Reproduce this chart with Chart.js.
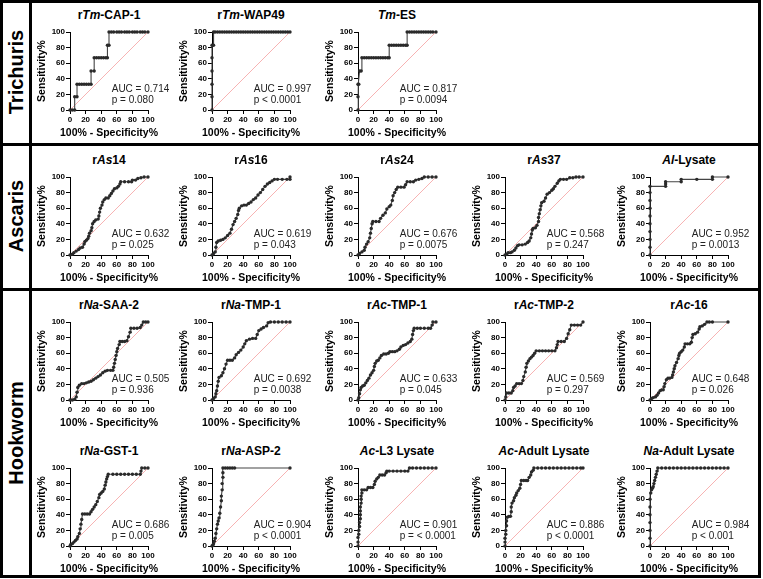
<!DOCTYPE html>
<html>
<head>
<meta charset="utf-8">
<script src="https://cdn.jsdelivr.net/npm/chart.js@4"></script>
<style>
  body { margin: 0; background: #fff; font-family: "Liberation Sans", Arial, sans-serif; }
  #fig { position: relative; width: 763px; height: 579px; overflow: hidden; }
  .frame { position: absolute; background: #000; }
  .title { position: absolute; font-size: 12px; font-weight: bold; line-height: 14px; white-space: nowrap; transform: translateX(-50%); }
  .group { position: absolute; width: 200px; height: 24px; line-height: 24px; text-align: center; font-size: 20px; font-weight: bold; transform: rotate(-90deg); }
  canvas { position: absolute; }
</style>
</head>
<body>
<div id="fig"></div>
<script>
// ROC points [100% - specificity, sensitivity]
const rTmCAP1 = [[0,0],[3,0],[6,0],[6,17],[9,17],[9,33],[12,33],[15,33],[18,33],[21,33],[24,33],[27,33],[27,50],[31,50],[31,67],[34,67],[37,67],[40,67],[43,67],[46,67],[48,67],[48,83],[50,83],[50,100],[53,100],[56,100],[60,100],[63,100],[66,100],[70,100],[73,100],[76,100],[80,100],[83,100],[86,100],[90,100],[93,100],[96,100],[100,100]];
const rTmWAP49 = [[0,0],[0,17],[0,33],[0,50],[0,67],[0,83],[2,83],[2,100],[4,100],[7,100],[10,100],[13,100],[16,100],[19,100],[22,100],[25,100],[28,100],[31,100],[34,100],[37,100],[40,100],[43,100],[46,100],[49,100],[52,100],[55,100],[58,100],[61,100],[64,100],[67,100],[70,100],[73,100],[76,100],[79,100],[82,100],[85,100],[88,100],[91,100],[94,100],[97,100],[100,100]];
const TmES = [[0,0],[0,17],[0,33],[1,33],[2,50],[4,50],[5,67],[8,67],[11,67],[14,67],[17,67],[20,67],[23,67],[26,67],[29,67],[32,67],[35,67],[38,67],[40,67],[40,83],[43,83],[46,83],[49,83],[52,83],[55,83],[58,83],[61,83],[63,83],[63,100],[66,100],[69,100],[72,100],[75,100],[78,100],[81,100],[84,100],[87,100],[90,100],[93,100],[96,100],[100,100]];

const rAs14 = [[0,0],[3,1],[5,3],[8,5],[11,7],[13,9],[16,10],[18,14],[19,17],[21,19],[23,21],[24,24],[25,28],[27,31],[28,35],[29,40],[31,43],[33,45],[36,46],[37,50],[38,55],[39,60],[41,64],[42,68],[44,71],[46,73],[49,73],[51,76],[53,79],[55,82],[57,85],[60,86],[62,88],[64,91],[65,94],[70,94],[75,94],[79,94],[80,96],[84,96],[87,98],[91,99],[95,100],[100,100]];
const rAs16 = [[0,0],[2,2],[4,4],[5,10],[6,16],[8,18],[11,19],[14,20],[17,22],[20,25],[23,28],[25,33],[27,39],[29,43],[31,47],[33,52],[34,57],[35,60],[38,63],[41,64],[44,64],[47,66],[50,68],[53,71],[56,73],[59,77],[62,80],[65,84],[68,88],[71,91],[74,93],[77,95],[80,97],[84,97],[90,97],[96,97],[100,97],[100,100]];
const rAs24 = [[0,0],[2,2],[5,4],[8,6],[9,10],[11,14],[13,17],[15,22],[16,28],[17,34],[18,40],[19,43],[23,43],[27,43],[29,47],[32,51],[35,54],[37,59],[40,62],[42,64],[44,70],[45,76],[47,80],[49,84],[51,87],[55,87],[59,87],[61,90],[63,94],[67,94],[71,94],[74,96],[78,97],[82,98],[85,100],[90,100],[95,100],[100,100]];
const rAs37 = [[0,0],[2,1],[4,3],[7,3],[9,4],[12,6],[14,9],[16,12],[18,13],[22,13],[26,14],[29,16],[31,18],[33,22],[34,27],[35,32],[36,34],[39,35],[41,38],[43,43],[43,48],[44,53],[45,58],[46,63],[47,67],[50,69],[52,73],[54,78],[57,80],[60,83],[62,85],[64,88],[67,92],[69,95],[71,97],[75,97],[79,97],[83,99],[87,99],[91,100],[95,100],[100,100]];
const AlLysate = [[0,0],[0,10],[0,20],[0,30],[0,40],[0,50],[0,60],[0,70],[0,80],[0,88],[20,88],[20,91],[20,94],[40,94],[40,97],[60,97],[80,97],[80,100],[100,100]];

const rNaSAA2 = [[0,0],[3,0],[6,1],[8,4],[9,10],[10,16],[12,19],[15,21],[18,21],[21,22],[24,23],[27,24],[30,26],[33,28],[36,30],[39,32],[42,35],[45,37],[48,38],[52,38],[55,38],[56,42],[57,47],[58,52],[59,57],[60,62],[61,66],[63,71],[64,75],[67,75],[70,75],[73,76],[75,81],[77,87],[78,92],[82,92],[86,92],[90,93],[92,96],[94,100],[97,100],[100,100]];
const rNaTMP1 = [[0,0],[2,2],[4,4],[5,8],[6,12],[7,18],[8,24],[9,29],[12,31],[14,35],[16,40],[18,46],[20,51],[23,51],[26,51],[29,54],[31,58],[34,61],[37,64],[40,68],[42,72],[44,76],[48,78],[52,79],[56,79],[58,84],[60,89],[63,91],[66,93],[70,95],[72,99],[75,100],[80,100],[85,100],[90,100],[95,100],[100,100]];
const rAcTMP1 = [[0,0],[1,3],[2,8],[3,13],[4,16],[6,18],[8,19],[10,22],[12,25],[14,28],[16,32],[18,35],[20,38],[21,43],[22,47],[24,50],[26,51],[28,54],[30,57],[33,59],[36,59],[39,60],[41,62],[44,62],[47,62],[50,63],[53,65],[55,68],[58,70],[61,71],[64,73],[67,75],[69,78],[70,84],[71,89],[72,92],[76,92],[80,92],[85,92],[90,92],[93,92],[95,96],[96,100],[100,100]];
const rAcTMP2 = [[0,0],[1,4],[2,9],[5,9],[8,9],[10,12],[11,16],[13,18],[15,21],[18,21],[21,21],[23,25],[24,30],[26,36],[27,42],[28,47],[30,50],[32,53],[34,55],[36,57],[38,60],[40,63],[44,63],[48,63],[52,63],[56,63],[60,63],[64,63],[66,67],[67,71],[68,75],[72,75],[76,75],[79,79],[81,85],[83,90],[85,96],[89,96],[93,96],[97,96],[100,100]];
const rAc16 = [[0,0],[2,2],[4,3],[7,4],[9,6],[11,9],[13,12],[15,13],[17,13],[18,17],[19,21],[21,26],[23,28],[25,28],[28,29],[29,32],[30,36],[31,40],[32,44],[34,48],[36,53],[37,57],[38,60],[40,62],[42,64],[44,68],[45,72],[48,72],[51,72],[53,74],[54,80],[55,84],[58,85],[61,87],[63,91],[64,94],[67,95],[70,97],[73,100],[76,100],[80,100],[100,100]];

const rNaGST1 = [[0,0],[1,2],[3,3],[5,5],[7,7],[9,9],[10,12],[12,16],[13,22],[14,28],[15,34],[16,41],[19,41],[22,41],[25,41],[27,44],[29,47],[31,50],[33,53],[35,57],[37,62],[38,66],[40,68],[42,70],[44,73],[45,78],[46,82],[47,86],[48,89],[49,92],[55,92],[60,92],[65,92],[70,92],[75,92],[80,92],[85,92],[90,92],[91,96],[92,100],[96,100],[100,100]];
const rNaASP2 = [[0,0],[1,1],[2,3],[3,6],[4,10],[5,16],[6,22],[7,28],[8,32],[9,36],[10,42],[11,50],[12,58],[12,64],[13,72],[13,80],[14,88],[14,94],[14,100],[17,100],[20,100],[23,100],[26,100],[29,100],[100,100]];
const AcL3 = [[0,0],[0,5],[0,11],[1,15],[1,20],[2,25],[2,30],[3,35],[3,40],[3,45],[3,50],[4,55],[4,60],[4,64],[5,68],[5,72],[8,72],[11,72],[13,75],[16,75],[19,75],[21,79],[22,83],[24,86],[26,88],[28,91],[31,91],[34,91],[36,94],[37,96],[40,96],[45,96],[50,96],[55,96],[60,96],[64,96],[66,100],[70,100],[75,100],[80,100],[85,100],[90,100],[95,100],[100,100]];
const AcAdult = [[0,0],[0,5],[0,10],[1,15],[1,20],[2,26],[2,32],[3,37],[5,38],[7,38],[8,44],[8,50],[9,55],[11,58],[12,62],[14,65],[15,68],[17,71],[19,74],[20,79],[21,84],[24,84],[27,84],[29,84],[31,88],[33,91],[34,95],[36,97],[37,100],[42,100],[47,100],[52,100],[57,100],[62,100],[67,100],[72,100],[77,100],[82,100],[87,100],[92,100],[97,100],[100,100]];
const NaAdult = [[0,0],[0,10],[0,20],[0,30],[0,40],[0,50],[0,60],[1,68],[2,72],[3,74],[4,76],[5,80],[6,84],[7,88],[8,92],[9,96],[10,100],[15,100],[20,100],[25,100],[30,100],[35,100],[40,100],[45,100],[50,100],[55,100],[60,100],[65,100],[70,100],[75,100],[80,100],[85,100],[90,100],[95,100],[100,100]];

const titles = [
  "r<i>Tm</i>-CAP-1", "r<i>Tm</i>-WAP49", "<i>Tm</i>-ES",
  "r<i>As</i>14", "r<i>As</i>16", "r<i>As</i>24", "r<i>As</i>37", "<i>Al</i>-Lysate",
  "r<i>Na</i>-SAA-2", "r<i>Na</i>-TMP-1", "r<i>Ac</i>-TMP-1", "r<i>Ac</i>-TMP-2", "r<i>Ac</i>-16",
  "r<i>Na</i>-GST-1", "r<i>Na</i>-ASP-2", "<i>Ac</i>-L3 Lysate", "<i>Ac</i>-Adult Lysate", "<i>Na</i>-Adult Lysate"
];
const aucValues = ["0.714","0.997","0.817","0.632","0.619","0.676","0.568","0.952",
  "0.505","0.692","0.633","0.569","0.648","0.686","0.904","0.901","0.886","0.984"];
const pValues = ["p = 0.080","p < 0.0001","p = 0.0094","p = 0.025","p = 0.043","p = 0.0075","p = 0.247","p = 0.0013",
  "p = 0.936","p = 0.0038","p = 0.045","p = 0.297","p = 0.026","p = 0.005","p < 0.0001","p = < 0.0001","p < 0.0001","p < 0.001"];
const curves = [rTmCAP1, rTmWAP49, TmES, rAs14, rAs16, rAs24, rAs37, AlLysate,
  rNaSAA2, rNaTMP1, rAcTMP1, rAcTMP2, rAc16, rNaGST1, rNaASP2, AcL3, AcAdult, NaAdult];
const diagonal = [[0,0],[100,100]];
const tickValues = [0, 20, 40, 60, 80, 100];
const groups = ["Trichuris", "Ascaris", "Hookworm"];
const xTitle = "100% - Specificity%";
const yTitle = "Sensitivity%";

// layout
const colLeft = [70, 212, 358, 505, 650];
const rowTop = [32, 177, 322, 468];
const rowCount = [3, 5, 5, 5];
const groupCenter = [72, 216, 433];
const plotSize = 78;
const padRight = 28;

const fig = document.getElementById("fig");
const fontFam = '"Liberation Sans", Arial, sans-serif';
Chart.defaults.font.family = fontFam;
Chart.defaults.color = "#000";

function addBox(l, t, w, h) {
  const d = document.createElement("div");
  d.className = "frame";
  d.style.cssText = `left:${l}px;top:${t}px;width:${w}px;height:${h}px`;
  fig.appendChild(d);
}
addBox(0, 0, 761, 3);
addBox(0, 575, 761, 3);
addBox(0, 0, 3, 578);
addBox(758, 0, 3, 578);
addBox(29, 0, 3, 578);
addBox(0, 143, 761, 3);
addBox(0, 288, 761, 3);

groups.forEach((g, i) => {
  const d = document.createElement("div");
  d.className = "group";
  d.textContent = g;
  d.style.left = (16 - 100) + "px";
  d.style.top = (groupCenter[i] - 12) + "px";
  fig.appendChild(d);
});

// AUC / p text and the x title (chart.js squeezes a scale title to the axis width)
const panelText = {
  id: "panelText",
  afterDatasetsDraw(chart, args, opts) {
    const {ctx, chartArea, scales: {x, y}} = chart;
    ctx.save();
    ctx.font = "10px " + fontFam;
    ctx.fillStyle = "#222";
    ctx.textBaseline = "middle";
    ctx.fillText(opts.auc, x.getPixelForValue(53.5), y.getPixelForValue(26));
    ctx.fillText(opts.p, x.getPixelForValue(53.5), y.getPixelForValue(12.7));
    ctx.font = "bold 10.5px " + fontFam;
    ctx.fillStyle = "#000";
    ctx.textAlign = "center";
    ctx.fillText(xTitle, (chartArea.left + chartArea.right) / 2, chartArea.bottom + 23);
    ctx.restore();
  }
};

function axis(isY) {
  return {
    type: "linear", min: 0, max: 100,
    afterBuildTicks: s => { s.ticks = tickValues.map(v => ({value: v})); },
    afterFit: s => { if (isY) s.width = 39; else s.height = 30; },
    ticks: {font: {size: 8, weight: "bold"}, color: "#000", padding: 1, autoSkip: false, maxRotation: 0},
    grid: {drawOnChartArea: false, drawTicks: true, tickLength: 4, color: "#000"},
    border: {color: "#000", width: 1},
    title: {display: isY, text: yTitle, font: {size: 10.5, weight: "bold"}, color: "#000",
      padding: {top: 4.7, bottom: 0}}
  };
}

function renderPanel(i, row, col) {
  const pl = colLeft[col], pt = rowTop[row];

  const t = document.createElement("div");
  t.className = "title";
  t.innerHTML = titles[i];
  t.style.left = (pl + plotSize / 2) + "px";
  t.style.top = (pt - 24.5) + "px";
  fig.appendChild(t);

  const c = document.createElement("canvas");
  c.width = 39 + plotSize + padRight;
  c.height = 6 + plotSize + 30;
  c.style.left = (pl - 39) + "px";
  c.style.top = (pt - 6) + "px";
  fig.appendChild(c);

  new Chart(c, {
    type: "scatter",
    data: {
      datasets: [
        {
          data: curves[i].map(p => ({x: p[0], y: p[1]})),
          showLine: true, borderColor: "#444", borderWidth: 1.1,
          pointRadius: 1.7, pointBackgroundColor: "#2a2a2a", pointBorderWidth: 0,
          clip: 4
        },
        {
          data: diagonal.map(p => ({x: p[0], y: p[1]})),
          showLine: true, borderColor: "rgb(245,160,160)", borderWidth: 0.8,
          pointRadius: 0, clip: 2
        }
      ]
    },
    options: {
      responsive: false, animation: false,
      layout: {padding: {top: 6, right: padRight, left: 0, bottom: 0}},
      plugins: {legend: {display: false}, tooltip: {enabled: false},
        panelText: {auc: "AUC = " + aucValues[i], p: pValues[i]}},
      scales: {x: axis(false), y: axis(true)}
    },
    plugins: [panelText]
  });
}

let idx = 0;
rowCount.forEach((n, r) => {
  for (let k = 0; k < n; k++) {
    renderPanel(idx, r, k);
    idx++;
  }
});
</script>
</body>
</html>
